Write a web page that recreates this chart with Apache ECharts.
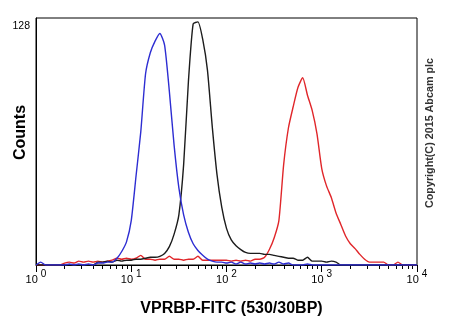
<!DOCTYPE html>
<html>
<head>
<meta charset="utf-8">
<script src="https://cdn.jsdelivr.net/npm/echarts@6/dist/echarts.min.js"></script>
<style>
  html, body { margin: 0; padding: 0; background: #fff; }
  #chart { width: 450px; height: 330px; }
</style>
</head>
<body>
<div id="chart"></div>
<script>
// Histogram channels, expressed as log10 of the FITC intensity
const decades = [
  0.00, 0.05, 0.10, 0.15, 0.20, 0.25, 0.30, 0.35, 0.40, 0.45,
  0.50, 0.55, 0.60, 0.65, 0.70, 0.75, 0.80, 0.85, 0.90, 0.95,
  1.00, 1.05, 1.10, 1.15, 1.20, 1.25, 1.30, 1.35, 1.40, 1.45,
  1.50, 1.55, 1.60, 1.65, 1.70, 1.75, 1.80, 1.85, 1.90, 1.95,
  2.00, 2.05, 2.10, 2.15, 2.20, 2.25, 2.30, 2.35, 2.40, 2.45,
  2.50, 2.55, 2.60, 2.65, 2.70, 2.75, 2.80, 2.85, 2.90, 2.95,
  3.00, 3.05, 3.10, 3.15, 3.20, 3.25, 3.30, 3.35, 3.40, 3.45,
  3.50, 3.55, 3.60, 3.65, 3.70, 3.75, 3.80, 3.85, 3.90, 3.95,
  4.00
];

// Event counts per channel
const unstainedCounts = [
  0, 1.5, 0, 0, 0, 0, 0, 0.5, 0, 0.5,
  0, 0.5, 0, 1, 1, 1.5, 1.5, 3.5, 7, 12,
  23, 46, 69, 99, 110, 116, 120, 114, 90, 62,
  40, 26, 17, 11, 7.5, 5, 3, 2, 1.5, 1.5,
  1, 1.5, 0.5, 1.5, 0.5, 1, 0.5, 1, 0.5, 1,
  0.5, 1.5, 0.5, 1, 0, 0, 0, 0.5, 0, 0,
  0, 0, 0, 0, 0, 0, 0, 0, 0, 0,
  0, 0, 0, 0, 0, 0, 0, 0, 0, 0,
  0
];
const isotypeCounts = [
  0, 0, 0, 0, 0, 0, 0, 0, 0, 0,
  0, 0, 0, 1.5, 1.5, 2, 1.5, 2.5, 2, 2.5,
  2.5, 3, 3, 3.5, 4, 4, 4.5, 6, 9.5, 16,
  26, 52, 95, 125, 126, 117, 101, 72, 47, 30,
  19, 13, 10, 8, 6.5, 6, 6, 6, 5.5, 5.5,
  5, 4.5, 4, 3.5, 3.5, 2.5, 2.5, 4, 2, 2,
  2, 1.5, 2, 1.5, 0, 0, 0, 0, 0, 0,
  0, 0, 0, 0, 0, 0, 0, 0, 0, 0,
  0
];
const vprbpCounts = [
  0, 0, 0, 0, 0, 0, 1, 1.5, 1, 2,
  1.5, 2, 1.5, 2, 1.5, 2, 2.5, 3.5, 3, 3.5,
  3, 3.5, 5, 3, 3, 2.5, 3, 3, 4.5, 3,
  3, 2.5, 3, 3, 4.5, 2.5, 2.5, 2.5, 2.5, 2.5,
  2.5, 2, 2.5, 2, 2.5, 2, 3, 3, 4, 8,
  14, 23, 52, 71, 82, 92, 97, 88, 80, 68,
  50, 41, 35, 27, 21, 15, 11, 8.5, 5.5, 3,
  1.5, 1.5, 1.5, 1.5, 0, 0, 1.5, 0, 0, 0,
  0
];

// Axis ticks
const xMajorTicks = [1, 10, 100, 1000, 10000];
const xMinorTicks = [
  2, 3, 4, 5, 6, 7, 8, 9,
  20, 30, 40, 50, 60, 70, 80, 90,
  200, 300, 400, 500, 600, 700, 800, 900,
  2000, 3000, 4000, 5000, 6000, 7000, 8000, 9000
];
const yMax = 128;

const toPoints = counts => decades.map((d, i) => [Math.pow(10, d), counts[i]]);

const chart = echarts.init(document.getElementById('chart'), null, { renderer: 'canvas' });

const FONT = 'Liberation Sans, Arial, sans-serif';

chart.setOption({
  animation: false,
  backgroundColor: '#fff',
  grid: {
    left: 36, right: 33, top: 18, bottom: 65,
    containLabel: false,
    outerBoundsMode: 'none',
    show: true, borderColor: '#000', borderWidth: 1
  },
  xAxis: [
    {
      type: 'log', logBase: 10, min: 1, max: 10000,
      position: 'bottom',
      name: 'VPRBP-FITC (530/30BP)',
      nameLocation: 'middle',
      nameGap: 36,
      nameMoveOverlap: false,
      nameTextStyle: { fontFamily: FONT, fontSize: 16, fontWeight: 'bold', color: '#000', padding: [0, 0, 0, 10] },
      axisLine: { show: true, lineStyle: { color: '#000', width: 1 } },
      axisTick: { show: true, customValues: xMajorTicks, length: 7, lineStyle: { color: '#000' } },
      axisLabel: {
        show: true,
        customValues: xMajorTicks,
        margin: 4,
        formatter: v => '{b|10}{s|' + Math.round(Math.log10(v)) + '}',
        rich: {
          b: { fontFamily: FONT, fontSize: 11, color: '#000' },
          s: { fontFamily: FONT, fontSize: 10, color: '#000', padding: [0, 0, 12, 3] }
        }
      },
      splitLine: { show: false },
      minorTick: { show: false }
    },
    {
      type: 'log', logBase: 10, min: 1, max: 10000,
      position: 'bottom',
      axisLine: { show: false },
      axisTick: { show: true, customValues: xMinorTicks, length: 4, lineStyle: { color: '#000' } },
      axisLabel: { show: false },
      splitLine: { show: false }
    }
  ],
  yAxis: {
    type: 'value', min: 0, max: yMax, interval: yMax,
    name: 'Counts',
    nameLocation: 'middle',
    nameGap: 7,
    nameMoveOverlap: false,
    nameTextStyle: { fontFamily: FONT, fontSize: 16, fontWeight: 'bold', color: '#000', padding: [0, 0, 0, 18] },
    axisLine: { show: true, lineStyle: { color: '#000', width: 1 } },
    axisTick: { show: false },
    axisLabel: {
      showMinLabel: false,
      fontFamily: FONT, fontSize: 10.5, color: '#000',
      margin: 6, verticalAlign: 'top', padding: [3, 0, 0, 0]
    },
    splitLine: { show: false }
  },
  graphic: [
    {
      type: 'text',
      x: 430, y: 133,
      rotation: Math.PI / 2,
      style: {
        text: 'Copyright(C) 2015 Abcam plc',
        fontFamily: FONT, fontSize: 10.75, fontWeight: 'bold',
        fill: '#333', align: 'center', verticalAlign: 'middle'
      }
    }
  ],
  series: [
    {
      name: 'VPRBP', type: 'line', data: toPoints(vprbpCounts),
      showSymbol: false, smooth: 0.2, lineStyle: { color: '#e0262a', width: 1.4 }
    },
    {
      name: 'Isotype control', type: 'line', data: toPoints(isotypeCounts),
      showSymbol: false, smooth: 0.2, lineStyle: { color: '#1c1c1c', width: 1.4 }
    },
    {
      name: 'Unstained', type: 'line', data: toPoints(unstainedCounts),
      showSymbol: false, smooth: 0.2, lineStyle: { color: '#2d2dd2', width: 1.4 }
    }
  ]
});
</script>
</body>
</html>
